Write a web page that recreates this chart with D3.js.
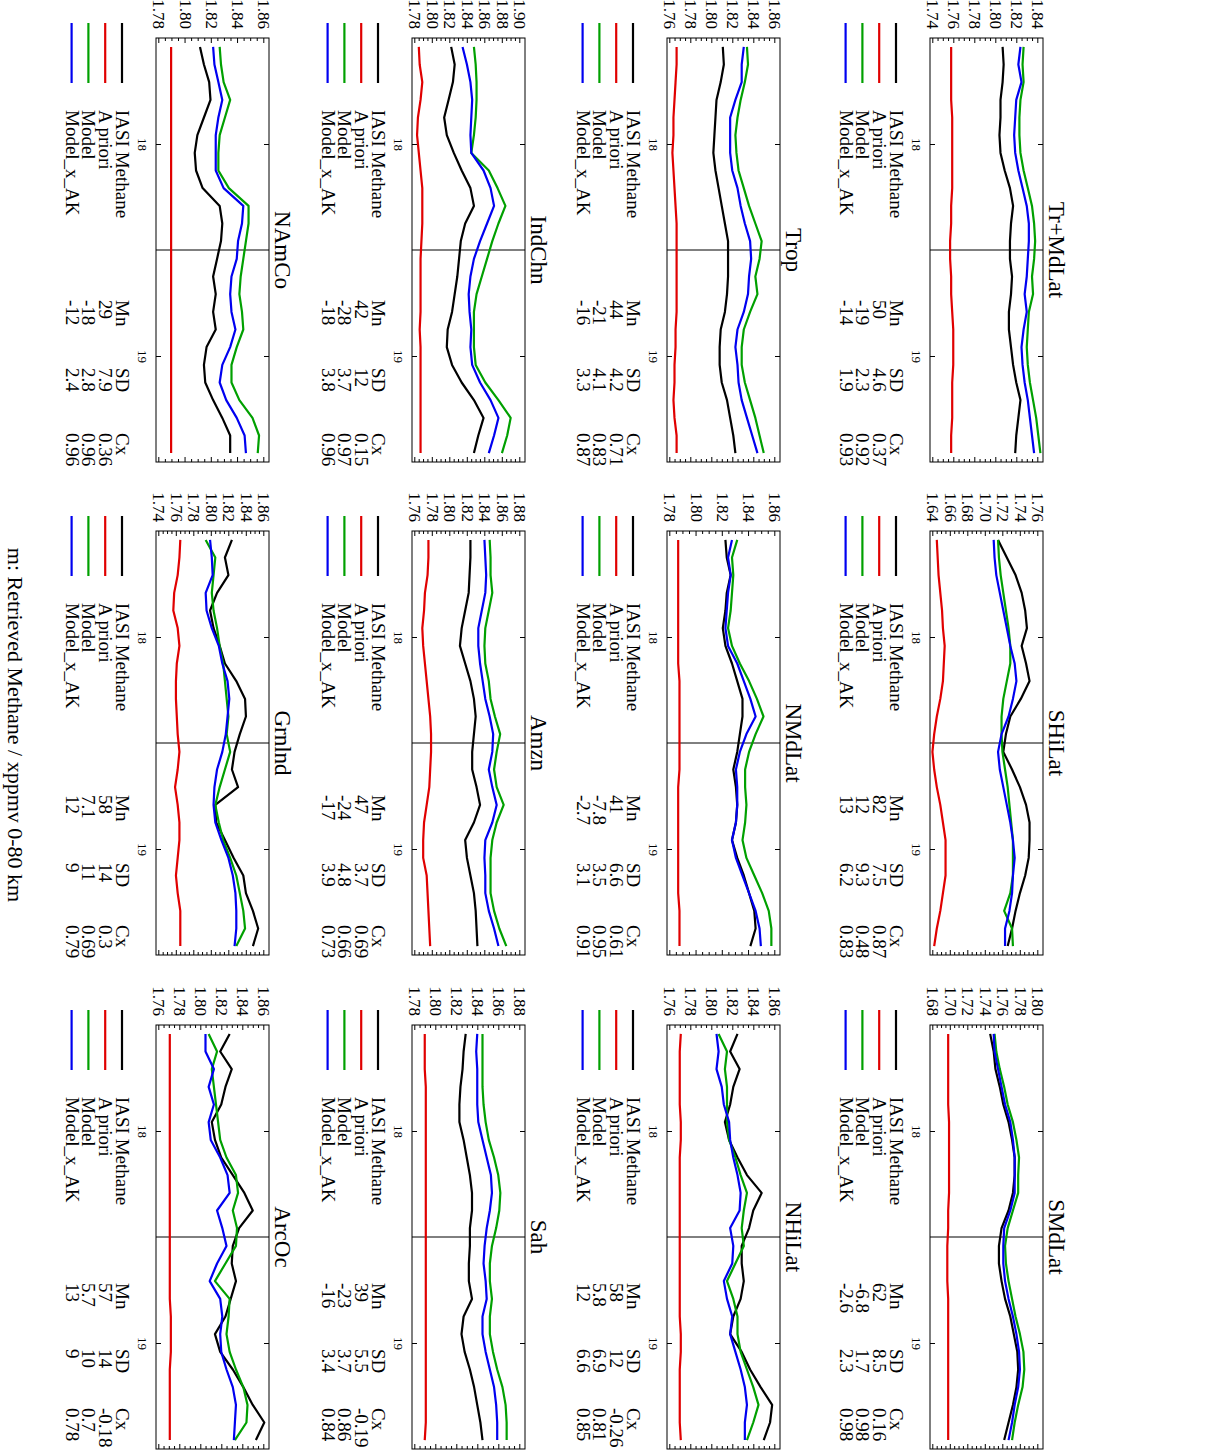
<!DOCTYPE html>
<html><head><meta charset="utf-8">
<script src="https://cdn.jsdelivr.net/npm/d3@7"></script>
<style>
body{margin:0;background:#fff}
text{font-family:"Liberation Serif","Times New Roman",serif;fill:#000}
</style>
</head><body>
<svg id="chart" width="1212" height="1450"></svg>
<script>
const regions = ["Tr+MdLat","SHiLat","SMdLat","Trop","NMdLat","NHiLat","IndChn","Amzn","Sah","NAmCo","Grnlnd","ArcOc"];
const months = [17.542,17.625,17.708,17.792,17.875,17.958,18.042,18.125,18.208,18.292,18.375,18.458,
                18.542,18.625,18.708,18.792,18.875,18.958,19.042,19.125,19.208,19.292,19.375,19.458];
const xTickValues = [18, 19];
const xMarker = 18.5;
const yLo = [1.74,1.64,1.68,1.76,1.78,1.76,1.78,1.76,1.78,1.78,1.74,1.76];
const yHi = [1.84,1.76,1.80,1.86,1.86,1.86,1.90,1.88,1.88,1.86,1.86,1.86];
const seriesNames = ["IASI Methane","A priori","Model","Model_x_AK"];
const seriesColors = ["#000000","#e00000","#00a000","#0000f0"];

const iasi = [
 [1.806,1.807,1.806,1.804,1.804,1.803,1.804,1.808,1.813,1.816,1.814,1.813,1.813,1.815,1.814,1.812,1.812,1.814,1.816,1.819,1.823,1.821,1.819,1.818],
 [1.714,1.724,1.734,1.741,1.745,1.747,1.741,1.746,1.750,1.740,1.728,1.723,1.720,1.730,1.739,1.746,1.750,1.750,1.749,1.745,1.739,1.734,1.730,1.725],
 [1.745,1.749,1.751,1.756,1.760,1.766,1.770,1.773,1.773,1.771,1.766,1.758,1.755,1.755,1.758,1.762,1.768,1.772,1.776,1.777,1.775,1.771,1.766,1.761],
 [1.810,1.811,1.808,1.804,1.803,1.802,1.801,1.803,1.806,1.809,1.812,1.815,1.815,1.815,1.814,1.812,1.808,1.807,1.807,1.809,1.814,1.817,1.820,1.822],
 [1.822,1.823,1.826,1.823,1.822,1.820,1.822,1.827,1.831,1.835,1.835,1.833,1.831,1.828,1.830,1.831,1.830,1.827,1.831,1.836,1.840,1.844,1.845,1.841],
 [1.824,1.817,1.826,1.820,1.817,1.812,1.816,1.824,1.833,1.847,1.839,1.835,1.828,1.828,1.830,1.827,1.820,1.817,1.828,1.836,1.846,1.857,1.855,1.849],
 [1.821,1.825,1.823,1.818,1.813,1.816,1.824,1.833,1.843,1.847,1.837,1.832,1.830,1.828,1.825,1.822,1.817,1.816,1.822,1.833,1.847,1.858,1.852,1.847],
 [1.823,1.823,1.822,1.821,1.817,1.813,1.811,1.817,1.823,1.827,1.829,1.827,1.825,1.825,1.830,1.834,1.827,1.817,1.819,1.823,1.827,1.829,1.830,1.831],
 [1.828,1.826,1.825,1.823,1.822,1.822,1.826,1.829,1.832,1.834,1.834,1.832,1.832,1.831,1.831,1.834,1.826,1.824,1.827,1.832,1.836,1.839,1.842,1.844],
 [1.811,1.814,1.818,1.819,1.814,1.809,1.807,1.808,1.813,1.826,1.828,1.827,1.824,1.821,1.823,1.821,1.823,1.816,1.814,1.815,1.821,1.828,1.834,1.834],
 [1.823,1.815,1.819,1.806,1.798,1.802,1.809,1.815,1.828,1.838,1.839,1.832,1.826,1.823,1.830,1.804,1.805,1.815,1.825,1.836,1.839,1.847,1.853,1.847],
 [1.827,1.818,1.829,1.823,1.819,1.810,1.813,1.819,1.830,1.841,1.849,1.836,1.830,1.829,1.833,1.828,1.823,1.813,1.818,1.830,1.840,1.849,1.860,1.852]
];
const apriori = [
 [1.757,1.757,1.757,1.757,1.758,1.758,1.758,1.758,1.758,1.757,1.757,1.756,1.756,1.757,1.757,1.758,1.759,1.759,1.759,1.758,1.758,1.758,1.757,1.757],
 [1.644,1.645,1.646,1.648,1.650,1.651,1.653,1.652,1.651,1.648,1.644,1.641,1.639,1.641,1.644,1.648,1.651,1.654,1.654,1.654,1.651,1.648,1.644,1.641],
 [1.697,1.697,1.697,1.697,1.697,1.698,1.698,1.698,1.698,1.698,1.697,1.697,1.696,1.696,1.696,1.697,1.697,1.697,1.697,1.697,1.697,1.697,1.697,1.697],
 [1.766,1.766,1.765,1.764,1.763,1.763,1.762,1.763,1.764,1.765,1.766,1.766,1.766,1.766,1.766,1.766,1.765,1.765,1.764,1.764,1.763,1.764,1.766,1.766],
 [1.786,1.786,1.786,1.786,1.786,1.786,1.786,1.786,1.787,1.787,1.787,1.787,1.787,1.787,1.786,1.786,1.786,1.786,1.786,1.786,1.786,1.787,1.787,1.787],
 [1.770,1.769,1.769,1.769,1.769,1.770,1.770,1.769,1.769,1.769,1.769,1.769,1.769,1.769,1.769,1.769,1.769,1.770,1.770,1.769,1.769,1.769,1.769,1.770],
 [1.784,1.785,1.788,1.786,1.783,1.782,1.784,1.786,1.788,1.788,1.788,1.787,1.786,1.786,1.786,1.786,1.785,1.786,1.786,1.786,1.786,1.786,1.786,1.786],
 [1.775,1.775,1.774,1.771,1.770,1.768,1.769,1.771,1.773,1.775,1.777,1.778,1.778,1.777,1.776,1.773,1.770,1.769,1.769,1.773,1.774,1.775,1.776,1.777],
 [1.789,1.789,1.789,1.790,1.790,1.790,1.790,1.790,1.790,1.790,1.790,1.790,1.790,1.790,1.790,1.790,1.790,1.790,1.790,1.790,1.790,1.790,1.790,1.789],
 [1.789,1.789,1.789,1.789,1.789,1.789,1.789,1.789,1.789,1.789,1.789,1.789,1.789,1.789,1.789,1.789,1.789,1.789,1.789,1.789,1.789,1.789,1.789,1.789],
 [1.764,1.763,1.761,1.757,1.756,1.761,1.763,1.760,1.759,1.759,1.760,1.761,1.763,1.761,1.758,1.761,1.763,1.763,1.761,1.759,1.761,1.764,1.764,1.764],
 [1.770,1.770,1.770,1.770,1.770,1.770,1.770,1.770,1.770,1.770,1.770,1.770,1.770,1.770,1.770,1.770,1.771,1.771,1.771,1.770,1.770,1.770,1.770,1.770]
];
const model = [
 [1.826,1.825,1.826,1.823,1.822,1.822,1.823,1.826,1.830,1.834,1.836,1.837,1.836,1.834,1.835,1.831,1.830,1.829,1.830,1.832,1.835,1.838,1.840,1.842],
 [1.714,1.715,1.717,1.720,1.723,1.726,1.728,1.728,1.724,1.720,1.718,1.718,1.719,1.722,1.725,1.727,1.729,1.731,1.731,1.731,1.728,1.721,1.730,1.731],
 [1.750,1.752,1.756,1.761,1.765,1.771,1.775,1.778,1.777,1.777,1.771,1.765,1.762,1.763,1.766,1.770,1.774,1.779,1.783,1.784,1.782,1.777,1.773,1.770],
 [1.833,1.834,1.831,1.827,1.824,1.822,1.823,1.825,1.830,1.835,1.841,1.847,1.845,1.841,1.843,1.836,1.830,1.828,1.828,1.831,1.836,1.841,1.845,1.849],
 [1.831,1.827,1.828,1.827,1.826,1.824,1.827,1.833,1.840,1.846,1.851,1.845,1.840,1.837,1.837,1.838,1.837,1.835,1.838,1.844,1.850,1.855,1.857,1.857],
 [1.806,1.814,1.812,1.814,1.814,1.814,1.816,1.822,1.827,1.833,1.830,1.828,1.830,1.822,1.814,1.820,1.824,1.824,1.827,1.833,1.839,1.844,1.839,1.833],
 [1.847,1.849,1.850,1.850,1.849,1.847,1.844,1.864,1.874,1.883,1.875,1.868,1.862,1.856,1.850,1.847,1.847,1.847,1.849,1.860,1.875,1.889,1.885,1.879],
 [1.845,1.846,1.846,1.848,1.844,1.840,1.839,1.840,1.844,1.846,1.851,1.857,1.853,1.850,1.853,1.861,1.853,1.848,1.846,1.846,1.846,1.850,1.856,1.864],
 [1.844,1.844,1.844,1.844,1.845,1.847,1.850,1.855,1.859,1.861,1.860,1.857,1.853,1.851,1.851,1.853,1.851,1.851,1.854,1.858,1.863,1.866,1.867,1.867],
 [1.826,1.827,1.829,1.834,1.830,1.826,1.825,1.825,1.833,1.848,1.848,1.846,1.844,1.842,1.841,1.843,1.844,1.839,1.835,1.835,1.841,1.851,1.856,1.855],
 [1.793,1.804,1.802,1.800,1.802,1.806,1.809,1.813,1.815,1.817,1.819,1.817,1.821,1.815,1.809,1.804,1.808,1.813,1.821,1.828,1.832,1.836,1.838,1.828],
 [1.807,1.815,1.810,1.812,1.814,1.816,1.818,1.824,1.833,1.835,1.830,1.834,1.833,1.823,1.813,1.827,1.826,1.824,1.827,1.833,1.840,1.844,1.843,1.832]
];
const modelAK = [
 [1.823,1.821,1.824,1.819,1.818,1.817,1.818,1.821,1.825,1.829,1.831,1.831,1.830,1.829,1.827,1.829,1.826,1.824,1.825,1.827,1.830,1.832,1.834,1.836],
 [1.709,1.710,1.712,1.716,1.720,1.724,1.728,1.733,1.735,1.731,1.726,1.718,1.714,1.716,1.720,1.724,1.728,1.731,1.733,1.731,1.730,1.727,1.722,1.722],
 [1.749,1.750,1.754,1.758,1.762,1.768,1.771,1.773,1.773,1.773,1.768,1.761,1.760,1.760,1.762,1.766,1.771,1.775,1.778,1.779,1.777,1.773,1.770,1.766],
 [1.830,1.828,1.828,1.822,1.817,1.817,1.817,1.819,1.824,1.827,1.831,1.836,1.837,1.835,1.834,1.830,1.824,1.822,1.824,1.825,1.828,1.833,1.838,1.843],
 [1.827,1.824,1.826,1.824,1.823,1.822,1.824,1.831,1.836,1.841,1.845,1.838,1.833,1.830,1.831,1.831,1.830,1.827,1.830,1.835,1.840,1.845,1.848,1.849],
 [1.804,1.806,1.804,1.809,1.811,1.816,1.817,1.820,1.824,1.827,1.826,1.817,1.820,1.819,1.811,1.814,1.819,1.817,1.822,1.827,1.831,1.833,1.831,1.831],
 [1.834,1.839,1.843,1.845,1.844,1.843,1.844,1.858,1.866,1.870,1.862,1.854,1.847,1.843,1.841,1.842,1.844,1.843,1.845,1.854,1.866,1.875,1.870,1.864],
 [1.839,1.840,1.841,1.840,1.836,1.832,1.832,1.834,1.837,1.840,1.845,1.849,1.848,1.844,1.848,1.853,1.848,1.840,1.839,1.840,1.840,1.844,1.850,1.855],
 [1.839,1.838,1.839,1.839,1.839,1.840,1.844,1.848,1.852,1.853,1.851,1.848,1.846,1.845,1.847,1.848,1.844,1.844,1.847,1.851,1.855,1.857,1.858,1.858],
 [1.821,1.822,1.825,1.828,1.825,1.823,1.823,1.823,1.829,1.844,1.843,1.840,1.839,1.835,1.834,1.835,1.838,1.834,1.828,1.826,1.831,1.839,1.845,1.846],
 [1.798,1.800,1.801,1.793,1.794,1.800,1.808,1.812,1.818,1.820,1.818,1.816,1.812,1.806,1.803,1.802,1.804,1.811,1.819,1.824,1.827,1.828,1.828,1.826],
 [1.804,1.804,1.812,1.807,1.812,1.807,1.809,1.818,1.825,1.827,1.815,1.820,1.824,1.815,1.808,1.818,1.820,1.818,1.819,1.824,1.830,1.833,1.832,1.831]
];
const statHeaders = ["Mn","SD","Cx"];
const statMn = [["50","-19","-14"],["82","12","13"],["62","-6.8","-2.6"],["44","-21","-16"],["41","-7.8","-2.7"],["58","5.8","12"],
                ["42","-28","-18"],["47","-24","-17"],["39","-23","-16"],["29","-18","-12"],["58","7.1","12"],["57","5.7","13"]];
const statSD = [["4.6","2.3","1.9"],["7.5","9.3","6.2"],["8.5","1.7","2.3"],["4.2","4.1","3.3"],["6.6","3.5","3.1"],["12","6.9","6.6"],
                ["12","3.7","3.8"],["3.7","4.8","3.9"],["5.5","3.7","3.4"],["7.9","2.8","2.4"],["14","11","9"],["14","10","9"]];
const statCx = [["0.37","0.92","0.93"],["0.87","0.48","0.83"],["0.16","0.98","0.98"],["0.71","0.83","0.87"],["0.61","0.95","0.91"],["-0.26","0.81","0.85"],
                ["0.15","0.97","0.96"],["0.69","0.66","0.73"],["-0.19","0.86","0.84"],["0.36","0.96","0.96"],["0.3","0.69","0.79"],["-0.18","0.7","0.78"]];
const xAxisLabel = "m: Retrieved Methane / xppmv 0-80 km";

// ---- layout (in the unrotated page frame: width 1450, height 1212) ----
const colLeft = [38, 531, 1025];
const rowTop = [169, 432, 687, 943];
const PW = 424, PH = 113;
const statOffsets = [[262, 330, 395], [264, 332, 394], [258, 324, 383]];

const svg = d3.select("#chart");
const root = svg.append("g").attr("transform", "translate(1212,0) rotate(90)");

const allSeries = [iasi, apriori, model, modelAK];
const FONT = '"Liberation Serif","Times New Roman",serif';

regions.forEach((name, p) => {
  const r = Math.floor(p / 3), c = p % 3;
  const x0 = colLeft[c], y0 = rowTop[r];
  const g = root.append("g");
  const x = d3.scaleLinear().domain([17.5, 19.5]).range([x0, x0 + PW]);
  const y = d3.scaleLinear().domain([yLo[p], yHi[p]]).range([y0 + PH - 3.3, y0 + 4.7]);

  const major = d3.range(yLo[p], yHi[p] + 1e-6, 0.02).map(v => +v.toFixed(3));
  const minor = d3.range(yLo[p], yHi[p] + 1e-6, 0.005).map(v => +v.toFixed(3))
      .filter(v => !major.some(m => Math.abs(m - v) < 1e-6));

  const yl = g.append("g").attr("transform", `translate(${x0},0)`)
    .call(d3.axisLeft(y).tickValues(major).tickSize(-5).tickPadding(9).tickFormat(d3.format(".2f")));
  g.append("g").attr("transform", `translate(${x0},0)`)
    .call(d3.axisLeft(y).tickValues(minor).tickSize(-3).tickFormat(""));
  g.append("g").attr("transform", `translate(${x0 + PW},0)`)
    .call(d3.axisRight(y).tickValues(major).tickSize(-5).tickFormat(""));
  g.append("g").attr("transform", `translate(${x0 + PW},0)`)
    .call(d3.axisRight(y).tickValues(minor).tickSize(-3).tickFormat(""));
  g.append("g").attr("transform", `translate(0,${y0 + PH})`)
    .call(d3.axisBottom(x).tickValues(xTickValues).tickSize(-5).tickPadding(9).tickFormat(d3.format("d")))
    .selectAll("text").attr("font-size", 13);
  g.append("g").attr("transform", `translate(0,${y0})`)
    .call(d3.axisTop(x).tickValues(xTickValues).tickSize(-5).tickFormat(""));
  g.selectAll(".domain").remove();
  g.selectAll(".tick line").attr("stroke", "#000");
  yl.selectAll("text").attr("font-size", 17);
  g.selectAll("text").attr("font-family", FONT).attr("fill", "#000");

  g.append("line").attr("x1", x(xMarker)).attr("x2", x(xMarker))
    .attr("y1", y0).attr("y2", y0 + PH).attr("stroke", "#000").attr("stroke-width", 1);

  const line = d3.line().x((d, i) => x(months[i])).y(d => y(d));
  allSeries.forEach((s, k) => {
    g.append("path").datum(s[p]).attr("d", line).attr("fill", "none")
      .attr("stroke", seriesColors[k]).attr("stroke-width", 2.2).attr("stroke-linejoin", "round");
  });

  g.append("rect").attr("x", x0).attr("y", y0).attr("width", PW).attr("height", PH)
    .attr("fill", "none").attr("stroke", "#000").attr("stroke-width", 1);

  g.append("text").attr("x", x0 + PW / 2).attr("y", y0 - 6).attr("text-anchor", "middle")
    .attr("font-size", 23).text(name);

  const legY = k => y0 + PH + 34 + k * 16.8;
  seriesNames.forEach((nm, k) => {
    g.append("line").attr("x1", x0 - 15).attr("x2", x0 + 45).attr("y1", legY(k)).attr("y2", legY(k))
      .attr("stroke", seriesColors[k]).attr("stroke-width", 2.2);
    g.append("text").attr("x", x0 + 72).attr("y", legY(k) + 6).attr("font-size", 19).text(nm);
  });
  const statCols = [statMn[p], statSD[p], statCx[p]];
  const statX = statOffsets[c];
  statHeaders.forEach((h, j) => {
    g.append("text").attr("x", x0 + statX[j]).attr("y", legY(0) + 6).attr("font-size", 19).text(h);
    statCols[j].forEach((v, k) => {
      g.append("text").attr("x", x0 + statX[j]).attr("y", legY(k + 1) + 6).attr("font-size", 19).text(v);
    });
  });
});

root.append("text").attr("x", 725).attr("y", 1204).attr("text-anchor", "middle")
  .attr("font-size", 22).attr("font-family", FONT).text(xAxisLabel);
</script>
</body></html>
